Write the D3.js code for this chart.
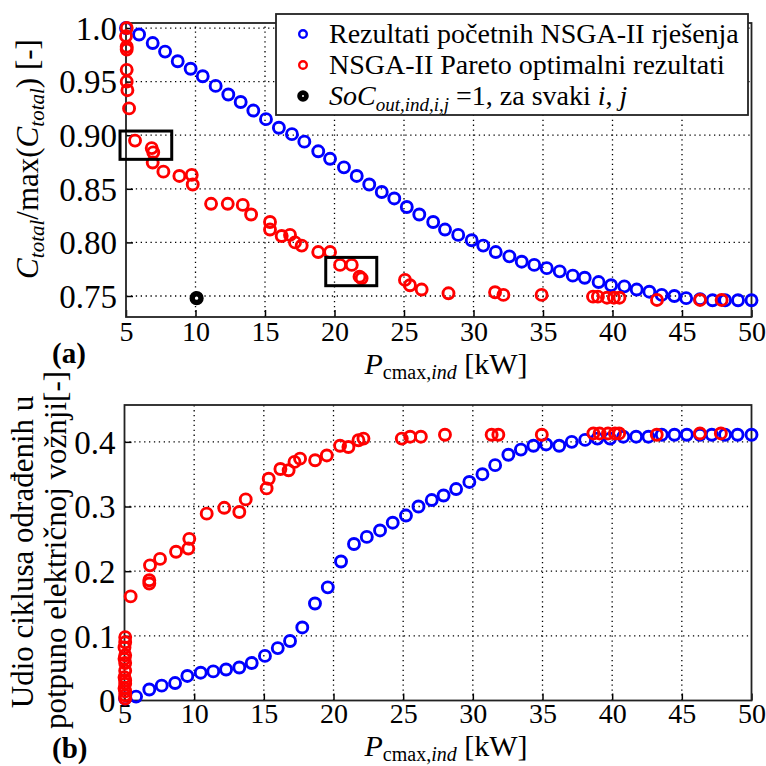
<!DOCTYPE html>
<html><head><meta charset="utf-8">
<script src="https://cdn.jsdelivr.net/npm/d3@7"></script>
<style>
html,body{margin:0;padding:0;background:#fff;}
svg text{font-family:'Liberation Serif','Times New Roman',serif !important;}
</style></head>
<body>
<svg id="chart" width="766" height="766"></svg>
<script>
// ---------- DATA ----------
const xTickValues = [5,10,15,20,25,30,35,40,45,50];
const xTickLabels = ["5","10","15","20","25","30","35","40","45","50"];
const yTopTickValues = [0.75,0.80,0.85,0.90,0.95,1.0];
const yTopTickLabels = ["0.75","0.80","0.85","0.90","0.95","1.0"];
const yBotTickValues = [0,0.1,0.2,0.3,0.4];
const yBotTickLabels = ["0","0.1","0.2","0.3","0.4"];

const legendLabels = ["Rezultati početnih NSGA-II rješenja","NSGA-II Pareto optimalni rezultati","SoC_out,ind,i,j =1, za svaki i, j"];

// (a) blue: initial NSGA-II results
const pTopBlue = [5.0,5.94,6.92,7.81,8.72,9.65,10.52,11.45,12.36,13.25,14.16,15.07,16.0,16.94,17.83,18.83,19.68,20.68,21.6,22.5,23.4,24.3,25.2,26.1,27.1,27.95,28.9,29.87,30.7,31.6,32.58,33.47,34.37,35.27,36.2,37.14,38.0,39.0,39.9,40.85,41.74,42.65,43.54,44.45,45.3,46.3,47.2,48.1,49.03,50.0];
const cTopBlue = [1.0,0.994,0.986,0.978,0.969,0.962,0.955,0.946,0.938,0.931,0.923,0.915,0.907,0.901,0.894,0.885,0.878,0.870,0.862,0.854,0.847,0.841,0.833,0.826,0.819,0.812,0.807,0.802,0.797,0.791,0.787,0.782,0.779,0.776,0.773,0.769,0.767,0.763,0.760,0.759,0.756,0.754,0.751,0.750,0.748,0.747,0.746,0.746,0.746,0.746];
// (a) red: NSGA-II Pareto optimal
const pTopRed = [5.05,5.0,5.05,5.05,5.05,5.05,5.1,5.22,5.65,6.85,6.96,6.92,7.69,8.84,9.73,9.8,11.12,12.32,13.4,14.0,15.36,15.36,16.2,16.8,17.16,17.64,18.83,19.68,20.4,21.24,21.8,21.95,25.07,25.43,26.27,28.2,31.55,32.15,34.9,38.6,38.95,39.6,40.1,40.5,43.2,46.3,47.85];
const cTopRed = [1.0,0.9925,0.9826,0.980,0.961,0.950,0.942,0.925,0.895,0.888,0.884,0.8745,0.866,0.862,0.863,0.854,0.836,0.836,0.835,0.826,0.819,0.812,0.806,0.807,0.800,0.797,0.791,0.791,0.779,0.779,0.768,0.7665,0.765,0.760,0.756,0.7525,0.7535,0.751,0.751,0.7494,0.7494,0.7484,0.7484,0.7484,0.7463,0.7463,0.7463];
// (a) black: SoC = 1
const pBlack = [10.08];
const cBlack = [0.748];
// (a) highlight boxes [p0, p1, c0, c1]
const boxP0 = [4.57, 19.37];
const boxP1 = [8.29, 23.04];
const boxC0 = [0.9039, 0.786];
const boxC1 = [0.8775, 0.7596];

// (b) blue
const pBotBlue = [5.04,5.83,6.78,7.67,8.63,9.51,10.47,11.37,12.29,13.24,14.13,15.08,16.0,16.88,17.76,18.67,19.59,20.54,21.47,22.39,23.34,24.25,25.2,26.1,27.05,27.9,28.8,29.75,30.69,31.6,32.55,33.45,34.35,35.26,36.2,37.1,38.06,38.94,39.85,40.8,41.72,42.6,43.56,44.47,45.36,46.3,47.15,48.1,49.0,50.0];
const uBotBlue = [0.003,0.006,0.017,0.023,0.027,0.038,0.043,0.045,0.048,0.051,0.058,0.069,0.081,0.092,0.113,0.150,0.175,0.215,0.242,0.253,0.263,0.275,0.286,0.300,0.310,0.317,0.327,0.338,0.350,0.364,0.380,0.388,0.394,0.396,0.394,0.400,0.403,0.405,0.405,0.408,0.408,0.408,0.411,0.411,0.411,0.411,0.411,0.411,0.411,0.411];
// (b) red
const pBotRed = [5.05,5.05,5.0,5.05,5.05,5.05,5.0,5.05,5.05,5.05,5.0,5.05,5.0,5.05,5.44,6.78,6.78,6.83,7.55,8.7,9.58,9.65,10.9,12.16,13.24,13.7,15.2,15.35,16.19,16.78,17.2,17.6,18.68,19.52,20.47,21.07,21.79,22.15,24.9,25.5,26.27,28.0,31.35,31.83,34.95,38.65,39.1,39.7,40.2,40.5,43.2,46.3,47.8];
const uBotRed = [0.098,0.090,0.0645,0.058,0.046,0.026,0.019,0.014,0.008,0.003,0.082,0.070,0.036,0.031,0.161,0.186,0.181,0.209,0.219,0.230,0.235,0.250,0.289,0.298,0.2915,0.311,0.328,0.343,0.358,0.356,0.369,0.374,0.3715,0.379,0.394,0.392,0.4025,0.405,0.405,0.408,0.408,0.411,0.411,0.411,0.411,0.413,0.413,0.413,0.413,0.413,0.411,0.413,0.413];

// ---------- DRAW ----------
const svg = d3.select("#chart");
const BLUE = "#0000ff", RED = "#ff0000";
const FONT = 28, YFONT = 33, SUB = 19;

const xTop = d3.scaleLinear().domain([5,50]).range([126,751.5]);
const yTop = d3.scaleLinear().domain([0.7304,1.0047]).range([317,23]);
const xBot = d3.scaleLinear().domain([5,50]).range([124.5,751.5]);
const yBot = d3.scaleLinear().domain([0,0.457]).range([700.5,405]);

function panel(x, y, yVals, yLabs, xLabBase) {
  const g = svg.append("g");
  const [x0,x1] = x.range(), [y0,y1] = y.range();
  g.selectAll(".gx").data(xTickValues.filter(v => v>5 && v<50)).join("line")
    .attr("x1", d=>x(d)).attr("x2", d=>x(d)).attr("y1", y0).attr("y2", y1)
    .attr("stroke","#000").attr("stroke-width",1.3).attr("stroke-dasharray","1.3,3.6");
  g.selectAll(".gy").data(yVals.filter(v => y(v) > y1+2 && y(v) < y0-2)).join("line")
    .attr("x1", x0).attr("x2", x1).attr("y1", d=>y(d)).attr("y2", d=>y(d))
    .attr("stroke","#000").attr("stroke-width",1.3).attr("stroke-dasharray","1.3,3.6");
  const ax = g.append("g").attr("transform",`translate(0,${y0})`)
    .call(d3.axisBottom(x).tickValues(xTickValues).tickFormat((d,i)=>xTickLabels[i]).tickSizeInner(-7).tickSizeOuter(0));
  const ay = g.append("g").attr("transform",`translate(${x0},0)`)
    .call(d3.axisLeft(y).tickValues(yVals).tickFormat((d,i)=>yLabs[i]).tickSizeInner(-7).tickSizeOuter(0).tickPadding(9));
  [ax, ay].forEach(a => {
    a.select(".domain").remove();
    a.selectAll("line").attr("stroke","#000").attr("stroke-width",1.5);
  });
  ax.selectAll("text").attr("font-size",FONT).attr("fill","#000").attr("y", xLabBase - y0).attr("dy",0);
  ay.selectAll("text").attr("font-size",YFONT).attr("fill","#000").attr("dy","0.34em");
  g.append("rect").attr("x",x0).attr("y",y1).attr("width",x1-x0).attr("height",y0-y1)
    .attr("fill","none").attr("stroke","#222").attr("stroke-width",1.8);
  return g;
}

const gTop = panel(xTop, yTop, yTopTickValues, yTopTickLabels, 341);
const gBot = panel(xBot, yBot, yBotTickValues, yBotTickLabels, 723);

function ring(g, xs, ys, color) {
  g.append("g").selectAll("circle").data(xs.map((d,i)=>[d, ys[i]])).join("circle")
    .attr("cx", d=>d[0]).attr("cy", d=>d[1]).attr("r",5.5)
    .attr("fill","none").attr("stroke",color).attr("stroke-width",2.9);
}

ring(gTop, pTopBlue.map(v=>xTop(v)), cTopBlue.map(v=>yTop(v)), BLUE);
ring(gTop, pTopRed.map(v=>xTop(v)), cTopRed.map(v=>yTop(v)), RED);
gTop.append("g").selectAll("circle").data(pBlack.map((d,i)=>[d,cBlack[i]])).join("circle")
  .attr("cx", d=>xTop(d[0])).attr("cy", d=>yTop(d[1])).attr("r",4.4)
  .attr("fill","#fff").attr("stroke","#000").attr("stroke-width",5.4);
gTop.append("g").selectAll("rect").data(boxP0.map((d,i)=>i)).join("rect")
  .attr("x", i=>xTop(boxP0[i])).attr("y", i=>yTop(boxC0[i]))
  .attr("width", i=>xTop(boxP1[i])-xTop(boxP0[i])).attr("height", i=>yTop(boxC1[i])-yTop(boxC0[i]))
  .attr("fill","none").attr("stroke","#000").attr("stroke-width",3);

ring(gBot, pBotBlue.map(v=>xBot(v)), uBotBlue.map(v=>yBot(v)), BLUE);
ring(gBot, pBotRed.map(v=>xBot(v)), uBotRed.map(v=>yBot(v)), RED);

// legend
const lg = svg.append("g");
lg.append("rect").attr("x",276).attr("y",14).attr("width",472).attr("height",101)
  .attr("fill","#fff").attr("stroke","#222").attr("stroke-width",1.8);
const rowsY = [34, 65, 96];
lg.append("circle").attr("cx",303).attr("cy",rowsY[0]).attr("r",3.8).attr("fill","none").attr("stroke",BLUE).attr("stroke-width",2.4);
lg.append("circle").attr("cx",303).attr("cy",rowsY[1]).attr("r",3.8).attr("fill","none").attr("stroke",RED).attr("stroke-width",2.4);
lg.append("circle").attr("cx",303).attr("cy",rowsY[2]).attr("r",3.4).attr("fill","#fff").attr("stroke","#000").attr("stroke-width",4.8);
lg.append("text").attr("x",329).attr("y",rowsY[0]+9).attr("font-size",FONT).text(legendLabels[0]);
lg.append("text").attr("x",329).attr("y",rowsY[1]+9).attr("font-size",FONT).text(legendLabels[1]);
{
  const t = lg.append("text").attr("x",329).attr("y",rowsY[2]+9).attr("font-size",FONT);
  t.append("tspan").attr("font-style","italic").text("SoC");
  t.append("tspan").attr("font-style","italic").attr("font-size",SUB).attr("dy",6).text("out,ind,i,j");
  t.append("tspan").attr("dy",-6).text(" =1, za svaki ");
  t.append("tspan").attr("font-style","italic").text("i");
  t.append("tspan").text(", ");
  t.append("tspan").attr("font-style","italic").text("j");
}

function xTitle(cx, by) {
  const t = svg.append("text").attr("x",cx).attr("y",by).attr("text-anchor","middle").attr("font-size",30);
  t.append("tspan").attr("font-style","italic").text("P");
  t.append("tspan").attr("font-size",20).attr("dy",5).text("cmax,");
  t.append("tspan").attr("font-size",20).attr("font-style","italic").text("ind");
  t.append("tspan").attr("dy",-5).text(" [kW]");
}
xTitle(446, 374);
xTitle(446, 756);

svg.append("text").attr("x",52).attr("y",363).attr("font-size",29).attr("font-weight","bold").text("(a)");
svg.append("text").attr("x",52).attr("y",758).attr("font-size",29).attr("font-weight","bold").text("(b)");

{
  const t = svg.append("text").attr("transform","translate(38,159) rotate(-90)").attr("text-anchor","middle").attr("font-size",31);
  t.append("tspan").attr("font-style","italic").text("C");
  t.append("tspan").attr("font-style","italic").attr("font-size",21).attr("dy",6).text("total");
  t.append("tspan").attr("dy",-6).text("/max(");
  t.append("tspan").attr("font-style","italic").text("C");
  t.append("tspan").attr("font-style","italic").attr("font-size",21).attr("dy",6).text("total");
  t.append("tspan").attr("dy",-6).text(") [-]");
}
svg.append("text").attr("transform","translate(33,552) rotate(-90)").attr("text-anchor","middle").attr("font-size",31).text("Udio ciklusa odrađenih u");
svg.append("text").attr("transform","translate(66,550) rotate(-90)").attr("text-anchor","middle").attr("font-size",31).text("potpuno električnoj vožnji[-]");
</script>
</body></html>
